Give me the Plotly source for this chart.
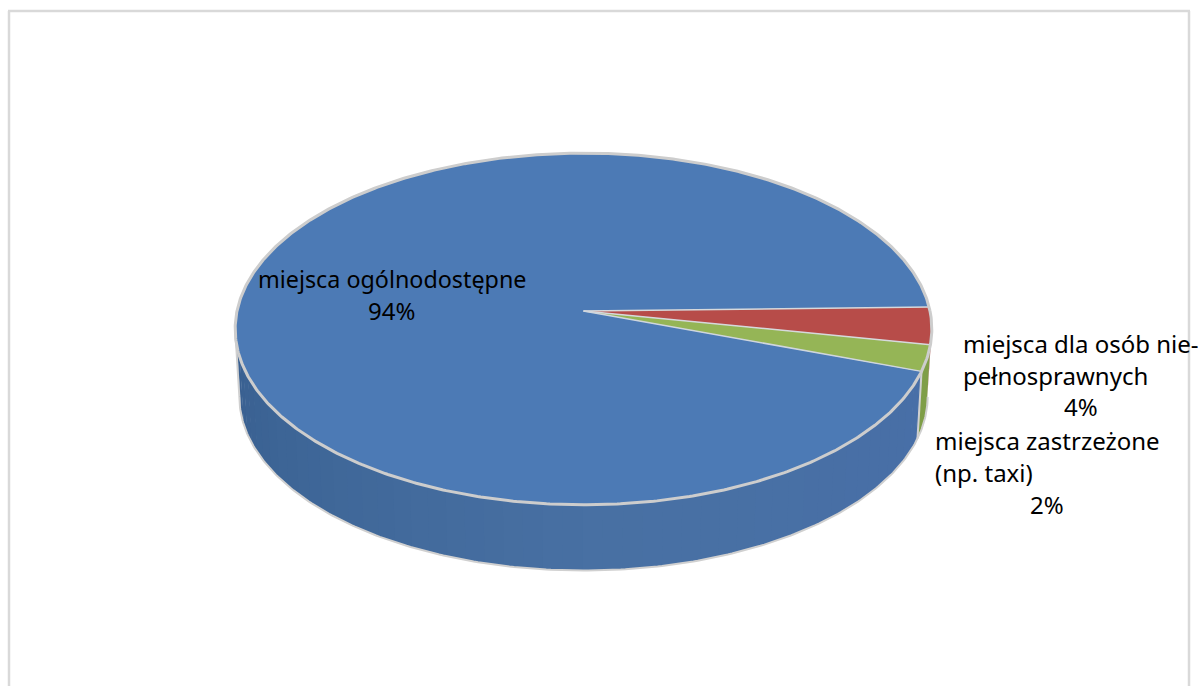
import math
import plotly.graph_objects as go

# Data
categories = ["miejsca ogólnodostępne", "miejsca dla osób niepełnosprawnych", "miejsca zastrzeżone (np. taxi)"]
values = [94.2, 3.4, 2.4]
colors = ["#4c7ab5", "#b74c49", "#95b556"]
label_lines = [
    ("miejsca ogólnodostępne", 392, 279, "center", 23.3),
    ("94%", 391, 310, "center", 24),
    ("miejsca dla osób nie-", 961, 343, "left", 24),
    ("pełnosprawnych", 961, 375, "left", 24),
    ("4%", 1081, 406, "center", 24),
    ("miejsca zastrzeżone", 933, 440, "left", 24),
    ("(np. taxi)", 933, 472, "left", 24),
    ("2%", 1047, 504, "center", 24),
]

# Projection of the tilted disc onto the page (pixel-like axis units)
CX, CY, R, S, K = 583.5, 311.0, 346.5, 174.0, 0.1023
DEPTH, BOTTOM_SCALE = 68.0, 0.988
START = 1.3  # degrees above horizontal at which the first slice begins
LEFT_TANGENT = 185.9
RIGHT_TANGENT = -5.9


def rim(deg, scale=1.0, dy=0.0):
    a = math.radians(deg)
    d = 1 + K * math.sin(a)
    return CX + scale * R * math.cos(a) / d, CY - scale * S * math.sin(a) / d + dy


def arc(a0, a1, n=None, scale=1.0, dy=0.0):
    n = n or max(2, int(abs(a1 - a0) * 2))
    pts = [rim(a0 + (a1 - a0) * i / n, scale, dy) for i in range(n + 1)]
    return [p[0] for p in pts], [p[1] for p in pts]


total = sum(values)
spans = [v / total * 360 for v in values]
blue = (START, START + spans[0])
red = (START, START - spans[1])
green = (red[1], red[1] - spans[2])

fig = go.Figure()


def poly(xs, ys, fill):
    fig.add_trace(go.Scatter(x=xs, y=ys, mode="lines", fill="toself", fillcolor=fill,
                             line=dict(color=fill, width=0),
                             hoverinfo="skip", showlegend=False))


def stroke(xs, ys, color, width):
    fig.add_trace(go.Scatter(x=xs, y=ys, mode="lines", line=dict(color=color, width=width),
                             hoverinfo="skip", showlegend=False))


def wall_color(deg):
    stops = [(180, (56, 94, 143)), (215, (61, 101, 150)), (270, (72, 112, 163)), (340, (72, 111, 167))]
    for (a0, c0), (a1, c1) in zip(stops, stops[1:]):
        if a0 <= deg <= a1:
            t = (deg - a0) / (a1 - a0)
            return "rgb(%d,%d,%d)" % tuple(round(c0[i] + (c1[i] - c0[i]) * t) for i in range(3))
    return "rgb(72,111,167)"


# Side wall, blue part, built from short facets
wall_end = 360 + green[1]
deg = LEFT_TANGENT
while deg < wall_end:
    nxt = min(deg + 3, wall_end)
    tx, ty = arc(deg, min(nxt + 0.4, wall_end), 3)
    bx, by = arc(deg, min(nxt + 0.4, wall_end), 3, BOTTOM_SCALE, DEPTH)
    poly(tx + bx[::-1], ty + by[::-1], wall_color(deg))
    deg = nxt

# Side wall, green and red parts
tx, ty = arc(green[1], green[0], 6)
bx, by = arc(green[1], green[0], 6, BOTTOM_SCALE, DEPTH)
poly(tx + bx[::-1], ty + by[::-1], "#7f9e48")
tx, ty = arc(green[0], RIGHT_TANGENT, 4)
bx, by = arc(green[0], RIGHT_TANGENT, 4, BOTTOM_SCALE, DEPTH)
poly(tx + bx[::-1], ty + by[::-1], "#a04341")

# Wall outlines
bx, by = arc(LEFT_TANGENT, 360 + RIGHT_TANGENT, 240, BOTTOM_SCALE, DEPTH)
stroke(bx, by, "#d0d0d0", 2)
for a in (LEFT_TANGENT, wall_end):
    p, q = rim(a), rim(a, BOTTOM_SCALE, DEPTH)
    stroke([p[0], q[0]], [p[1], q[1]], "#d0d0d0", 2)

# Top face slices
for (a0, a1), col in zip((blue, red, green), colors):
    xs, ys = arc(a0, a1)
    poly([CX] + xs + [CX], [CY] + ys + [CY], col)

# Slice borders and rim
for a in (red[0], red[1]):
    p = rim(a)
    stroke([CX, p[0]], [CY, p[1]], "#d6d9dc", 1.5)
p = rim(green[1])
stroke([CX, p[0]], [CY, p[1]], "#cfd6de", 1.5)
xs, ys = arc(0, 360, 720)
stroke(xs, ys, "#cdcdcd", 3)

for text, x, y, anchor, size in label_lines:
    fig.add_annotation(x=x, y=y, text=text, showarrow=False, xanchor=anchor, yanchor="middle",
                       font=dict(family="Noto Sans", size=size, color="#000000"))

# Chart frame: open at the bottom
fig.add_shape(type="line", x0=9, x1=9, y0=11, y1=686, line=dict(color="#d9d9d9", width=2.5))
fig.add_shape(type="line", x0=8, x1=1190, y0=11, y1=11, line=dict(color="#d9d9d9", width=2.5))
fig.add_shape(type="line", x0=1189, x1=1189, y0=11, y1=686, line=dict(color="#d9d9d9", width=2.5))

fig.update_layout(
    width=1198, height=686, margin=dict(l=0, r=0, t=0, b=0), autosize=False,
    paper_bgcolor="white", plot_bgcolor="white", showlegend=False,
    xaxis=dict(range=[0, 1198], visible=False, fixedrange=True),
    yaxis=dict(range=[686, 0], visible=False, fixedrange=True),
)
fig.write_html("out.html", config={"displayModeBar": False},
               post_script="document.body.style.margin='0';document.documentElement.style.overflow='hidden';")
